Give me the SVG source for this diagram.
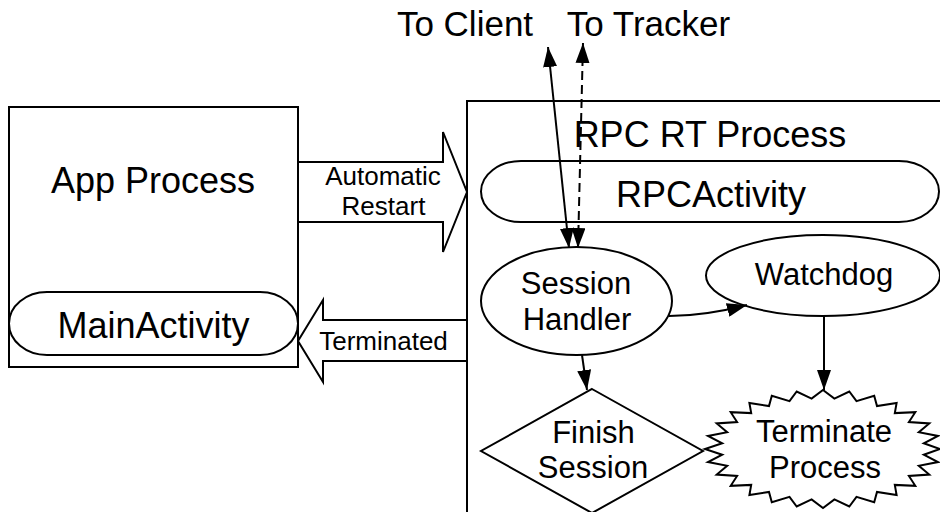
<svg xmlns="http://www.w3.org/2000/svg" width="940" height="512" viewBox="0 0 940 512">
<style>
.shape{fill:#fff;stroke:#000;stroke-width:2;stroke-linejoin:miter}
.t{font-family:"Liberation Sans",Arial,Helvetica,sans-serif;fill:#000;text-anchor:middle}
.big{font-size:36px}
.top{font-size:35px}
.mid{font-size:31px}
.small{font-size:26px}
.conn{fill:none;stroke:#000;stroke-width:2}
.dash{stroke-dasharray:9 5}
</style>
<defs>
<marker id="ah" viewBox="0 0 20 14" markerWidth="20" markerHeight="14" refX="20" refY="7" orient="auto-start-reverse" markerUnits="userSpaceOnUse">
<path d="M0,0 L20,7 L0,14 z" fill="#000"/>
</marker>
</defs>
<rect width="940" height="512" fill="#fff"/>

<g id="app-process">
<rect class="shape" x="9" y="107" width="289" height="260"/>
<text class="t big" x="153" y="193">App Process</text>
</g>
<g id="main-activity">
<rect class="shape" x="9" y="292" width="289" height="63" rx="38" ry="31.5"/>
<text class="t big" x="153.5" y="338">MainActivity</text>
</g>

<g id="rpc-rt-process">
<rect class="shape" x="467" y="101" width="480" height="420"/>
<text class="t big" x="710" y="147">RPC RT Process</text>
</g>
<g id="rpc-activity">
<rect class="shape" x="481" y="161" width="458" height="61" rx="40" ry="30.5"/>
<text class="t big" x="711" y="207">RPCActivity</text>
</g>

<g id="automatic-restart">
<polygon class="shape" points="298,162 443,162 443,132 467,192 443,252 443,222 298,222"/>
<text class="t small" x="383" y="185">Automatic</text>
<text class="t small" x="383.5" y="215">Restart</text>
</g>
<g id="terminated">
<polygon class="shape" points="467,320 323,320 323,300 298,341 323,382 323,361 467,361"/>
<text class="t small" x="383.5" y="350">Terminated</text>
</g>

<g id="session-handler">
<ellipse class="shape" cx="576.5" cy="301" rx="95.5" ry="54"/>
<text class="t mid" x="576" y="294">Session</text>
<text class="t mid" x="577" y="330">Handler</text>
</g>
<g id="watchdog">
<ellipse class="shape" cx="823" cy="275.5" rx="117" ry="40.5"/>
<text class="t mid" x="824" y="285">Watchdog</text>
</g>
<g id="finish-session">
<polygon class="shape" points="592,389 703,451 592,513 481,451"/>
<text class="t mid" x="593.5" y="443">Finish</text>
<text class="t mid" x="593" y="478">Session</text>
</g>
<g id="terminate-process">
<polygon class="shape" points="823,390 834.4,398.6 849.3,391.5 856.5,401.1 874.2,395.8 877,406 896.6,402.9 894.8,413.1 915.3,412.2 908.9,422 929.3,423.4 918.8,432.2 938,435.9 923.8,443.3 940,449 923.8,454.7 938,462.1 918.8,465.8 929.3,474.6 908.9,476 915.3,485.8 894.8,484.9 896.6,495.1 877,492 874.2,502.2 856.5,496.9 849.3,506.5 834.4,499.4 823,508 811.6,499.4 796.7,506.5 789.5,496.9 771.8,502.2 769,492 749.4,495.1 751.2,484.9 730.7,485.8 737.1,476 716.7,474.6 727.2,465.8 708,462.1 722.2,454.7 705,449 722.2,443.3 708,435.9 727.2,432.2 716.7,423.4 737.1,422 730.7,412.2 751.2,413.1 749.4,402.9 769,406 771.8,395.8 789.5,401.1 796.7,391.5 811.6,398.6"/>
<text class="t mid" x="824" y="442">Terminate</text>
<text class="t mid" x="825" y="478">Process</text>
</g>

<g id="labels">
<text class="t top" x="465" y="36">To Client</text>
<text class="t top" x="648.5" y="36">To Tracker</text>
</g>

<g id="connectors">
<line class="conn" x1="548" y1="47" x2="569" y2="248" marker-start="url(#ah)" marker-end="url(#ah)"/>
<line class="conn dash" x1="583" y1="43" x2="578" y2="248" marker-start="url(#ah)" marker-end="url(#ah)"/>
<path class="conn" d="M669,316 C695,316 720,312 747,305" marker-end="url(#ah)"/>
<line class="conn" x1="582" y1="355" x2="587" y2="390" marker-end="url(#ah)"/>
<line class="conn" x1="824" y1="316" x2="824" y2="390" marker-end="url(#ah)"/>
</g>
</svg>
